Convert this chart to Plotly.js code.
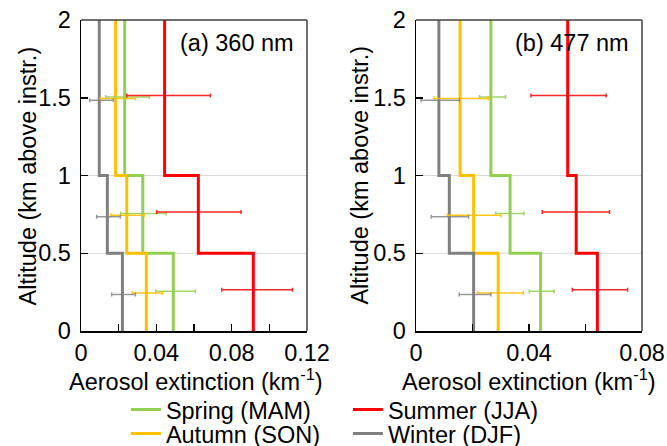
<!DOCTYPE html>
<html>
<head>
<meta charset="utf-8">
<script src="https://cdn.plot.ly/plotly-3.0.1.min.js"></script>
<style>html,body{margin:0;padding:0;background:#fff;}#chart{width:667px;height:446px;}</style>
</head>
<body>
<div id="chart"></div>
<script>
// ---- Data ----
const seasons = ['Spring (MAM)', 'Summer (JJA)', 'Autumn (SON)', 'Winter (DJF)'];
const layerBounds = [0, 0.5, 1, 2];          // altitude layer boundaries (km)
const layerMid = [0.25, 0.75, 1.5];          // altitude of error-bar points (km)

// step profiles (layer 0-0.5, 0.5-1, 1-2 km), 360 nm
const spring360 = [0.049, 0.0328, 0.0232];
const summer360 = [0.0915, 0.0623, 0.0444];
const autumn360 = [0.0347, 0.0243, 0.0184];
const winter360 = [0.022, 0.014, 0.0097];
// step profiles, 477 nm
const spring477 = [0.0441, 0.0333, 0.0265];
const summer477 = [0.0642, 0.0567, 0.0537];
const autumn477 = [0.0291, 0.0204, 0.0156];
const winter477 = [0.0204, 0.0118, 0.0081];

// error-bar centres and half-widths, 360 nm
const springMean360 = [0.0502, 0.0332, 0.0247], springErr360 = [0.0105, 0.0121, 0.0116];
const summerMean360 = [0.0935, 0.0626, 0.0465], summerErr360 = [0.0188, 0.0224, 0.0222];
const autumnMean360 = [0.0352, 0.0247, 0.0195], autumnErr360 = [0.008, 0.0088, 0.0094];
const winterMean360 = [0.0226, 0.0146, 0.0109], winterErr360 = [0.0063, 0.0063, 0.0063];
// error-bar centres and half-widths, 477 nm
const springMean477 = [0.0445, 0.0332, 0.0271], springErr477 = [0.0044, 0.005, 0.0046];
const summerMean477 = [0.0651, 0.0566, 0.054], summerErr477 = [0.0098, 0.0119, 0.0133];
const autumnMean477 = [0.0299, 0.0206, 0.016], autumnErr477 = [0.0081, 0.0095, 0.0096];
const winterMean477 = [0.0209, 0.012, 0.0086], winterErr477 = [0.0056, 0.0066, 0.0068];

const xTicks360 = [0, 0.02, 0.04, 0.06, 0.08, 0.1, 0.12];
const xTickText360 = ['0', '', '0.04', '', '0.08', '', '0.12'];
const xTicks477 = [0, 0.02, 0.04, 0.06, 0.08];
const xTickText477 = ['0', '', '0.04', '', '0.08'];
const yTicks = [0, 0.5, 1, 1.5, 2];
const yTickText = ['0', '0.5', '1', '1.5', '2'];

// ---- Styles ----
const colors = ['#92D050', '#FF0000', '#FFC000', '#808080'];
const errColors = ['rgba(146,208,80,0.85)', 'rgba(255,0,0,0.85)', 'rgba(255,192,0,0.9)', 'rgba(128,128,128,0.8)'];
const errOffset = [0.005, 0.015, -0.005, -0.016];   // small vertical stagger of error bars
const legendOf = ['legend', 'legend', 'legend2', 'legend2'];
const FONT = 'Liberation Sans, Arial, sans-serif';
const FS = 23.5;

const profiles360 = [spring360, summer360, autumn360, winter360];
const profiles477 = [spring477, summer477, autumn477, winter477];
const means360 = [springMean360, summerMean360, autumnMean360, winterMean360];
const errs360 = [springErr360, summerErr360, autumnErr360, winterErr360];
const means477 = [springMean477, summerMean477, autumnMean477, winterMean477];
const errs477 = [springErr477, summerErr477, autumnErr477, winterErr477];

function stepXY(vals) {
  const x = [], y = [];
  for (let i = 0; i < vals.length; i++) {
    x.push(vals[i], vals[i]);
    y.push(layerBounds[i], layerBounds[i + 1]);
  }
  return {x, y};
}

const traces = [];
function addPanel(profiles, means, errs, xa, ya, showLeg) {
  profiles.forEach((p, i) => {
    const s = stepXY(p);
    traces.push({
      type: 'scatter', mode: 'lines', x: s.x, y: s.y, xaxis: xa, yaxis: ya,
      name: seasons[i], line: {color: colors[i], width: 3},
      showlegend: showLeg, legend: legendOf[i], hoverinfo: 'skip'
    });
  });
  means.forEach((m, i) => {
    traces.push({
      type: 'scatter', mode: 'markers', x: m, y: layerMid.map(v => v + errOffset[i]),
      xaxis: xa, yaxis: ya, showlegend: false, hoverinfo: 'skip',
      marker: {size: 1, opacity: 0},
      error_x: {type: 'data', array: errs[i], visible: true, color: errColors[i], thickness: 1.5, width: 2}
    });
  });
}
addPanel(profiles360, means360, errs360, 'x', 'y', true);
addPanel(profiles477, means477, errs477, 'x2', 'y2', false);

const axisCommon = {
  showgrid: false, zeroline: false, showline: true, linecolor: '#000', linewidth: 1.5,
  ticks: 'inside', ticklen: 7, tickwidth: 1.5, tickcolor: '#000', automargin: false,
  tickfont: {family: FONT, size: FS, color: '#000'}, fixedrange: true
};
const xTitleText = 'Aerosol extinction (km<sup>-1</sup>)';
const yTitleText = 'Altitude (km above instr.)';

const shapes = [];
[['x', 'y'], ['x2', 'y2']].forEach(([xa, ya]) => {
  [0.5, 1].forEach(v => shapes.push({type: 'line', xref: xa + ' domain', yref: ya, x0: 0, x1: 1, y0: v, y1: v,
    line: {color: '#d9d9d9', width: 1}, layer: 'below'}));
  shapes.push({type: 'line', xref: xa + ' domain', yref: ya + ' domain', x0: 0, x1: 1, y0: 1, y1: 1, line: {color: '#404040', width: 1.5}});
  shapes.push({type: 'line', xref: xa + ' domain', yref: ya + ' domain', x0: 1, x1: 1, y0: 0, y1: 1, line: {color: '#404040', width: 1.5}});
});

const tf = {family: FONT, size: FS, color: '#000'};
const layout = {
  width: 667, height: 446,
  margin: {l: 81, r: 25, t: 20, b: 115, autoexpand: false},
  paper_bgcolor: '#fff', plot_bgcolor: '#fff',
  font: tf,
  xaxis: Object.assign({}, axisCommon, {domain: [0, 0.40285], range: [0, 0.12], tickvals: xTicks360, ticktext: xTickText360, ticklabelstandoff: 0}),
  xaxis2: Object.assign({}, axisCommon, {domain: [0.59715, 1], range: [0, 0.08], tickvals: xTicks477, ticktext: xTickText477, anchor: 'y2', ticklabelstandoff: 0}),
  yaxis: Object.assign({}, axisCommon, {range: [0, 2], tickvals: yTicks, ticktext: yTickText, ticklabelstandoff: 4}),
  yaxis2: Object.assign({}, axisCommon, {range: [0, 2], tickvals: yTicks, ticktext: yTickText, anchor: 'x2', ticklabelstandoff: 4}),
  shapes: shapes,
  annotations: [
    {text: '(a) 360 nm', xref: 'x domain', yref: 'y domain', x: 0.95, y: 0.926, xanchor: 'right', yanchor: 'middle', showarrow: false, font: tf},
    {text: '(b) 477 nm', xref: 'x2 domain', yref: 'y2 domain', x: 0.95, y: 0.926, xanchor: 'right', yanchor: 'middle', showarrow: false, font: tf},
    {text: yTitleText, xref: 'x domain', yref: 'y domain', x: -0.235, y: 0.5, xanchor: 'center', yanchor: 'middle', textangle: -90, showarrow: false, font: tf},
    {text: yTitleText, xref: 'x2 domain', yref: 'y2 domain', x: -0.252, y: 0.5, xanchor: 'center', yanchor: 'middle', textangle: -90, showarrow: false, font: tf},
    {text: xTitleText, xref: 'x domain', yref: 'y domain', x: 0.51, y: -0.157, xanchor: 'center', yanchor: 'middle', showarrow: false, font: tf},
    {text: xTitleText, xref: 'x2 domain', yref: 'y2 domain', x: 0.5, y: -0.157, xanchor: 'center', yanchor: 'middle', showarrow: false, font: tf}
  ],
  legend: {orientation: 'h', x: 0.08, xanchor: 'left', y: -0.253, yanchor: 'middle', entrywidth: 177, entrywidthmode: 'pixels',
    font: tf, bgcolor: 'rgba(0,0,0,0)', itemclick: false, itemdoubleclick: false},
  legend2: {orientation: 'h', x: 0.08, xanchor: 'left', y: -0.33, yanchor: 'middle', entrywidth: 177, entrywidthmode: 'pixels',
    font: tf, bgcolor: 'rgba(0,0,0,0)', itemclick: false, itemdoubleclick: false},
  showlegend: true
};

Plotly.newPlot('chart', traces, layout, {displayModeBar: false, staticPlot: true});
</script>
</body>
</html>
